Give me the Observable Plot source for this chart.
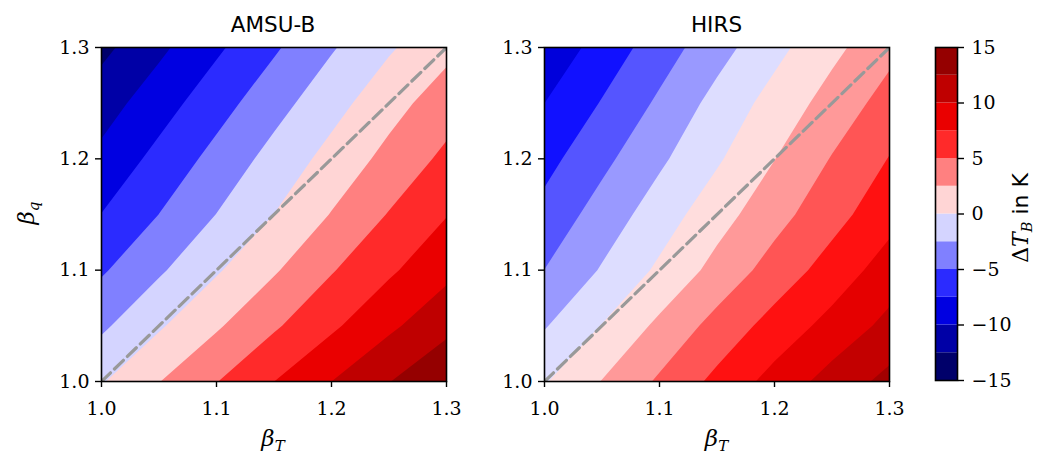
<!DOCTYPE html>
<html>
<head>
<meta charset="utf-8">
<script src="https://cdn.jsdelivr.net/npm/d3@7"></script>
<script src="https://cdn.jsdelivr.net/npm/@observablehq/plot@0.6"></script>
<style>
  body { margin: 0; background: #fff; }
  #chart { position: relative; width: 1038px; height: 457px; overflow: hidden; background: #fff; }
  #chart > svg { position: absolute; top: 0; }
</style>
</head>
<body>
<div id="chart"></div>
<script>
// Grid axes of the sensitivity study (scaling factors for temperature and humidity)
const betaT = [1.0, 1.05, 1.1, 1.15, 1.2, 1.25, 1.3];
const betaQ = [1.0, 1.05, 1.1, 1.15, 1.2, 1.25, 1.3];

// Brightness temperature change ΔT_B in K; one row per betaQ (from 1.0 upward), one column per betaT
const amsuB = [
  [-0.2, 2.43, 4.92, 7.49, 10.0, 12.42, 14.8],
  [-2.95, -0.3, 2.19, 4.66, 7.06, 9.5, 11.8],
  [-5.3, -2.85, -0.27, 2.23, 4.82, 7.11, 9.35],
  [-7.45, -4.98, -2.46, 0.02, 2.62, 5.14, 7.4],
  [-9.35, -6.75, -4.2, -1.63, 0.83, 3.24, 5.57],
  [-11.12, -8.59, -6.02, -3.44, -0.91, 1.57, 3.8],
  [-13.14, -10.53, -7.92, -5.34, -2.74, -0.3, 1.8]
];
const hirs = [
  [-0.2, 2.59, 5.37, 8.15, 10.9, 13.48, 15.75],
  [-2.69, 0.09, 3.05, 5.87, 8.44, 10.84, 13.2],
  [-4.97, -2.28, 0.45, 3.32, 6.03, 8.55, 11.17],
  [-6.7, -3.93, -1.25, 1.48, 4.1, 6.6, 9.1],
  [-8.33, -5.64, -2.94, -0.32, 2.45, 5.14, 7.6],
  [-10.0, -7.34, -4.57, -1.66, 0.93, 3.49, 6.0],
  [-11.8, -9.02, -6.24, -3.46, -0.73, 1.85, 4.3]
];

// Contour levels, tick values and the β_T = β_q reference line
const levels = [-17.5, -15, -12.5, -10, -7.5, -5, -2.5, 0, 2.5, 5, 7.5, 10, 12.5, 15, 17.5];
const colorbarLevels = [-15, -12.5, -10, -7.5, -5, -2.5, 0, 2.5, 5, 7.5, 10, 12.5, 15];
const colorbarTicks = [-15, -10, -5, 0, 5, 10, 15];
const betaTicks = [1.0, 1.1, 1.2, 1.3];
const diagonal = [1.0, 1.3];

// Diverging blue-white-red colormap ("seismic")
function seismic(t) {
  t = Math.max(0, Math.min(1, t));
  let r, g, b;
  if (t < 0.25) { r = 0; g = 0; b = 0.3 + 0.7 * t / 0.25; }
  else if (t < 0.5) { r = g = (t - 0.25) / 0.25; b = 1; }
  else if (t < 0.75) { r = 1; g = b = 1 - (t - 0.5) / 0.25; }
  else { r = 1 - 0.5 * (t - 0.75) / 0.25; g = b = 0; }
  return d3.rgb(r * 255, g * 255, b * 255).formatHex();
}

// Each filled band carries its lower level; colour it by the band's midpoint
function bandColor(vmax, step) {
  return {type: "linear", domain: [-vmax - step / 2, vmax - step / 2], interpolate: seismic, clamp: true};
}

const fmt = d3.format(".1f");
const serif = {fontFamily: "'DejaVu Serif', serif", fontSize: "19px", background: "none", overflow: "visible"};

function panel(values, vmax, left, marginLeft) {
  const dx = betaT[1] - betaT[0];
  const dy = betaQ[1] - betaQ[0];
  const svg = Plot.plot({
    width: 460,
    height: 457,
    marginLeft,
    marginRight: 460 - marginLeft - 345,
    marginTop: 47,
    marginBottom: 76,
    style: serif,
    x: {domain: [betaT[0], betaT[betaT.length - 1]]},
    y: {domain: [betaQ[0], betaQ[betaQ.length - 1]]},
    color: bandColor(vmax, 2.5),
    marks: [
      Plot.contour(values.flat(), {
        width: betaT.length,
        height: betaQ.length,
        x1: betaT[0] - dx / 2,
        x2: betaT[betaT.length - 1] + dx / 2,
        y1: betaQ[0] - dy / 2,
        y2: betaQ[betaQ.length - 1] + dy / 2,
        fill: Plot.identity,
        thresholds: levels,
        stroke: "none",
        clip: true
      }),
      Plot.line(diagonal, {x: (d) => d, y: (d) => d, stroke: "#999999", strokeWidth: 3.2, strokeDasharray: "12.5,5.5", clip: true}),
      Plot.frame({stroke: "black", strokeWidth: 1.6}),
      Plot.axisX({ticks: betaTicks, tickFormat: fmt, tickSize: 6, tickPadding: 14, strokeWidth: 1.4, label: null}),
      Plot.axisY({ticks: betaTicks, tickFormat: fmt, tickSize: 6, tickPadding: 6, strokeWidth: 1.4, label: null})
    ]
  });
  svg.style.left = left + "px";
  return svg;
}

const chart = document.getElementById("chart");
chart.appendChild(panel(amsuB, 15, 0, 101));
chart.appendChild(panel(hirs, 18.75, 444, 100));

// Colour bar for ΔT_B
const bands = colorbarLevels.slice(0, -1).map((lo, i) => ({lo, hi: colorbarLevels[i + 1]}));
const bar = Plot.plot({
  width: 118,
  height: 457,
  marginLeft: 15,
  marginRight: 81,
  marginTop: 47,
  marginBottom: 77,
  style: serif,
  x: {axis: null},
  y: {domain: [colorbarLevels[0], colorbarLevels[colorbarLevels.length - 1]]},
  color: bandColor(15, 2.5),
  marks: [
    Plot.rectY(bands, {y1: "lo", y2: "hi", fill: "lo"}),
    Plot.frame({stroke: "black", strokeWidth: 1.6}),
    Plot.axisY({anchor: "right", ticks: colorbarTicks, tickSize: 6, tickPadding: 8, strokeWidth: 1.4, label: null})
  ]
});
bar.style.left = "920px";
chart.appendChild(bar);

// Titles and axis labels
const ns = "http://www.w3.org/2000/svg";
const overlay = d3.select(chart).append("svg")
  .attr("xmlns", ns)
  .attr("width", 1038).attr("height", 457)
  .style("left", "0px").style("pointer-events", "none");

const titleFont = "'DejaVu Sans', sans-serif";
const mathFont = "'DejaVu Serif', serif";

[["AMSU-B", 273], ["HIRS", 716.5]].forEach(([name, cx]) => {
  overlay.append("text").attr("x", cx).attr("y", 32).attr("text-anchor", "middle")
    .attr("font-family", titleFont).attr("font-size", 21.5).text(name);
});

function beta(sel, sub) {
  sel.append("tspan").attr("font-family", mathFont).attr("font-style", "italic").text("β");
  sel.append("tspan").attr("font-family", mathFont).attr("font-style", "italic")
    .attr("font-size", 15).attr("dy", 5).text(sub);
}

[273, 716.5].forEach((cx) => {
  const t = overlay.append("text").attr("x", cx).attr("y", 446).attr("text-anchor", "middle").attr("font-size", 23);
  beta(t, "T");
});

const yl = overlay.append("text").attr("transform", "translate(34,213) rotate(-90)")
  .attr("text-anchor", "middle").attr("font-size", 23);
beta(yl, "q");

const cl = overlay.append("text").attr("transform", "translate(1028,218) rotate(-90)")
  .attr("text-anchor", "middle").attr("font-size", 22);
cl.append("tspan").attr("font-family", mathFont).text("Δ");
cl.append("tspan").attr("font-family", mathFont).attr("font-style", "italic").text("T");
cl.append("tspan").attr("font-family", mathFont).attr("font-style", "italic").attr("font-size", 14.5).attr("dy", 4).text("B");
cl.append("tspan").attr("font-family", titleFont).attr("dy", -4).text(" in K");
</script>
</body>
</html>
